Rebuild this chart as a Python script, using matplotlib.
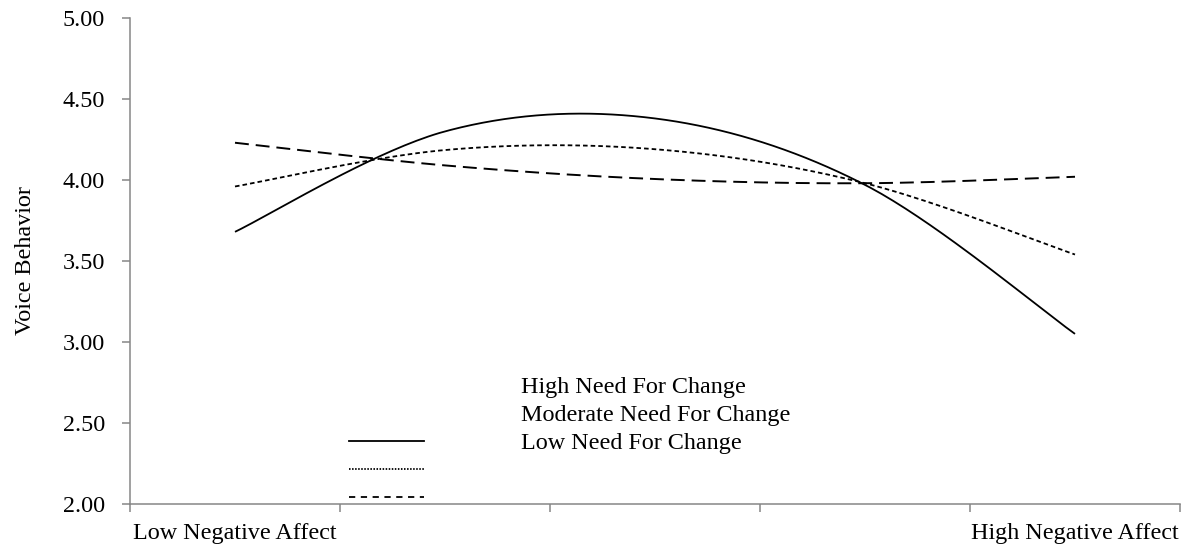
import matplotlib
matplotlib.use("Agg")
import matplotlib.pyplot as plt
from matplotlib.lines import Line2D
import numpy as np

plt.rcParams['font.family'] = ['Liberation Serif', 'DejaVu Serif']
plt.rcParams['lines.scale_dashes'] = False

# values read at the five negative-affect positions
categories = ["Low Negative Affect", "", "", "", "High Negative Affect"]
high_nfc = [3.68, 4.30, 4.38, 3.97, 3.05]
moderate_nfc = [3.96, 4.185, 4.19, 3.98, 3.54]
low_nfc = [4.23, 4.09, 4.006, 3.98, 4.02]

legend_labels = ["High Need For Change", "Moderate Need For Change", "Low Need For Change"]
y_ticks = [2.0, 2.5, 3.0, 3.5, 4.0, 4.5, 5.0]

AXIS_GREY = "#868686"
FS = 17.4


def smooth(xs, ys, n=40):
    # excel style smoothed line (catmull-rom as cubic bezier)
    xs = np.asarray(xs, float)
    ys = np.asarray(ys, float)
    px = np.concatenate([[xs[0]], xs, [xs[-1]]])
    py = np.concatenate([[ys[0]], ys, [ys[-1]]])
    out_x, out_y = [], []
    t = np.linspace(0, 1, n)
    for i in range(1, len(px) - 2):
        p0 = np.array([px[i], py[i]])
        p3 = np.array([px[i + 1], py[i + 1]])
        b1 = p0 + (p3 - np.array([px[i - 1], py[i - 1]])) / 6.0
        b2 = p3 - (np.array([px[i + 2], py[i + 2]]) - p0) / 6.0
        pts = ((1 - t) ** 3)[:, None] * p0 + (3 * (1 - t) ** 2 * t)[:, None] * b1 \
            + (3 * (1 - t) * t ** 2)[:, None] * b2 + (t ** 3)[:, None] * p3
        out_x.extend(pts[:, 0])
        out_y.extend(pts[:, 1])
    return np.array(out_x), np.array(out_y)


fig = plt.figure(figsize=(11.92, 5.52), dpi=100)
ax = fig.add_axes([130 / 1192, 1 - 504 / 552, 1050 / 1192, 486 / 552])

x = np.arange(len(categories))

sx, sy = smooth(x, high_nfc)
ax.plot(sx, sy, color="black", lw=1.3, solid_capstyle="butt")
sx, sy = smooth(x, moderate_nfc)
ax.plot(sx, sy, color="black", lw=1.3, dashes=(3.3, 2.2))
sx, sy = smooth(x, low_nfc)
ax.plot(sx, sy, color="black", lw=1.4, dashes=(10, 5))

ax.set_xlim(-0.5, len(categories) - 0.5)
ax.set_ylim(2.0, 5.0)

ax.set_yticks(y_ticks)
ax.set_yticklabels([f"{v:.2f}" for v in y_ticks])
ax.set_xticks(np.arange(len(categories) + 1) - 0.5)
ax.set_xticklabels([])
ax.set_xticks(x, minor=True)
ax.set_xticklabels(categories, minor=True)

ax.tick_params(axis="both", which="major", direction="out", length=6, width=1.1,
               color=AXIS_GREY, labelsize=FS, labelcolor="black")
ax.tick_params(axis="x", which="minor", length=0, pad=13.6, labelsize=FS)
ax.tick_params(axis="y", pad=12)

for side in ["top", "right"]:
    ax.spines[side].set_visible(False)
for side in ["left", "bottom"]:
    ax.spines[side].set_color(AXIS_GREY)
    ax.spines[side].set_linewidth(1.1)

ax.set_ylabel("Voice Behavior", fontsize=FS)
ax.yaxis.set_label_coords(-94 / 1050, 0.5)

# legend, laid out as in the original (labels sit two rows above the samples)
blank = Line2D([], [], color="none")
handles = [
    blank,
    blank,
    Line2D([], [], color="black", lw=1.3),
    Line2D([], [], color="black", lw=1.3, dashes=(1.1, 1.1)),
    Line2D([], [], color="black", lw=1.3, dashes=(4.5, 4.0)),
]
labels = legend_labels + ["", ""]
ax.legend(handles, labels, loc="upper left", bbox_to_anchor=(349 / 1192, 1 - 376 / 552),
          bbox_transform=fig.transFigure, frameon=False, fontsize=FS,
          handlelength=3.1, handletextpad=4.0, labelspacing=0.26, borderpad=0,
          borderaxespad=0)

fig.savefig("out.png", dpi=100)
